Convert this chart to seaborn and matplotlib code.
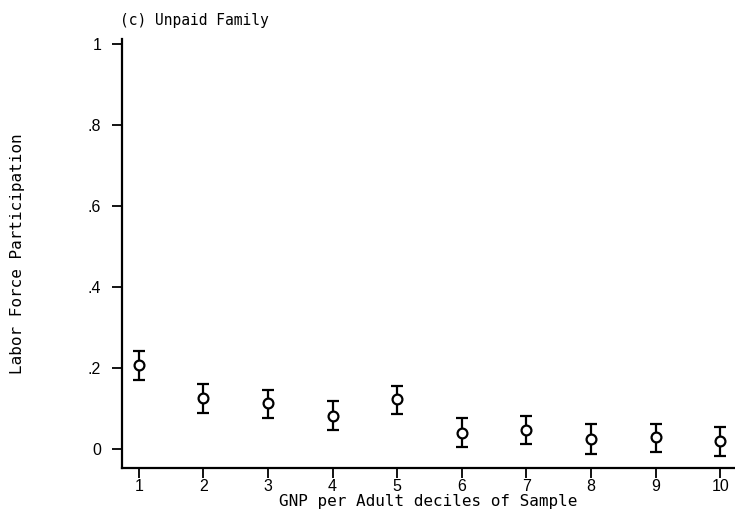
import matplotlib
matplotlib.use("Agg")
import matplotlib.pyplot as plt
import seaborn as sns
import pandas as pd

# decile of GNP per adult, point estimate and 95% interval
deciles = [1, 2, 3, 4, 5, 6, 7, 8, 9, 10]
lfp = [0.207, 0.125, 0.113, 0.081, 0.123, 0.040, 0.047, 0.025, 0.029, 0.020]
lower = [0.170, 0.090, 0.077, 0.047, 0.086, 0.004, 0.012, -0.011, -0.007, -0.016]
upper = [0.243, 0.160, 0.147, 0.118, 0.156, 0.076, 0.081, 0.061, 0.063, 0.055]

ytick_vals = [0, 0.2, 0.4, 0.6, 0.8, 1]
ytick_labels = ["0", ".2", ".4", ".6", ".8", "1"]

df = pd.DataFrame({"decile": deciles, "lfp": lfp, "lo": lower, "hi": upper})

sns.set_style("ticks", {"text.color": "black", "axes.labelcolor": "black",
                        "xtick.color": "black", "ytick.color": "black"})
plt.rcParams["font.family"] = ["Liberation Sans", "DejaVu Sans"]

fig = plt.figure(figsize=(7.35, 5.19), dpi=100)
ax = fig.add_axes([0.166, 0.098, 0.834, 0.827])

err = [df["lfp"] - df["lo"], df["hi"] - df["lfp"]]
ax.errorbar(df["decile"], df["lfp"], yerr=err, fmt="none", ecolor="black",
            elinewidth=1.6, capsize=4.5, capthick=1.6, zorder=2)
sns.scatterplot(data=df, x="decile", y="lfp", ax=ax, marker="o", s=50,
                facecolor="white", edgecolor="black", linewidth=1.6, zorder=3)

ax.set_xlim(0.74, 10.23)
ax.set_ylim(-0.047, 1.012)
ax.set_xticks(deciles)
ax.set_xticklabels([str(d) for d in deciles], fontsize=11.5)
ax.set_yticks(ytick_vals)
ax.set_yticklabels(ytick_labels, fontsize=11.5)
ax.tick_params(axis="both", length=7, width=1.3, color="black", pad=1)
ax.tick_params(axis="y", pad=8)

for side in ["left", "bottom"]:
    ax.spines[side].set_linewidth(1.6)
    ax.spines[side].set_color("black")
sns.despine(ax=ax)

mono = ["DejaVu Sans Mono"]
ax.set_xlabel("GNP per Adult deciles of Sample", family=mono, fontsize=11.5, labelpad=0)
ax.set_ylabel("Labor Force Participation", family=mono, fontsize=11.5, labelpad=45)
fig.text(0.163, 0.961, "(c) Unpaid Family", family=mono, fontsize=10.5,
         ha="left", va="center")

fig.savefig("out.png", dpi=100)
